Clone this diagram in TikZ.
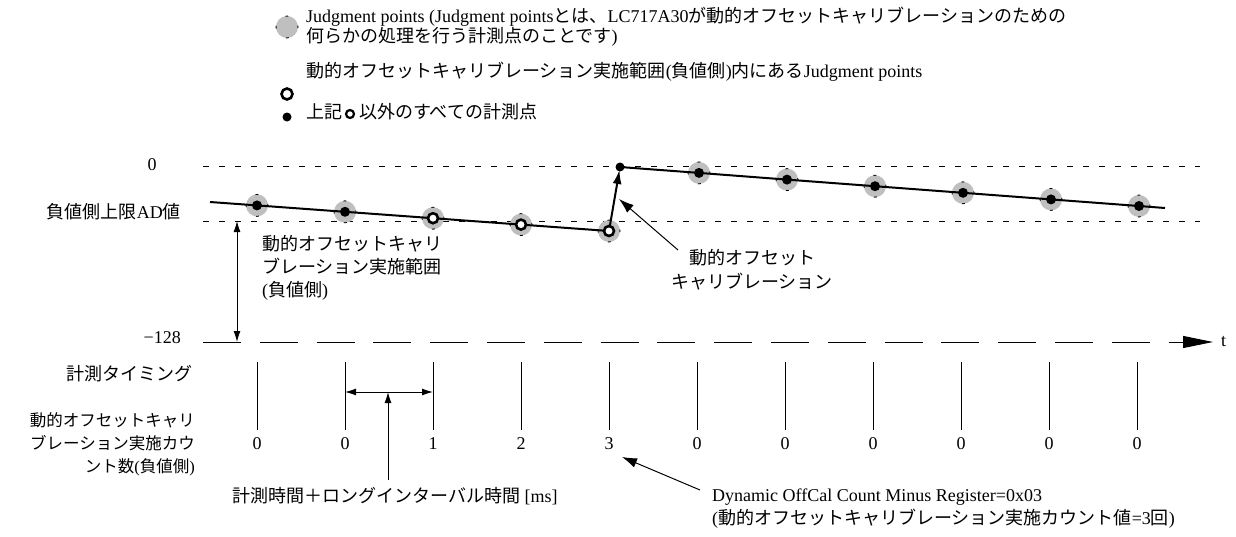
\documentclass[tikz,border=0pt]{standalone}
\usepackage{fontspec}
\setmainfont{Liberation Serif}
\newfontfamily\jpf{Noto Sans CJK JP}
\newcommand\J[1]{{\jpf #1}}
\newcommand\fsz{\fontsize{18}{21}\selectfont}
\newcommand\fsw{\fontsize{18}{23}\selectfont}
\usetikzlibrary{arrows.meta}
\tikzset{
  txt/.style={inner sep=0pt, font=\fsz},
  txtw/.style={inner sep=0pt, font=\fsw},
  jpt/.style={circle, fill=gray!50, draw=black, line width=0.8pt, minimum size=22pt, inner sep=0pt, dash pattern=on 3pt off 14.28pt, dash phase=1.5pt},
  dotpt/.style={circle, fill=black, minimum size=10pt, inner sep=0pt},
  openpt/.style={circle, fill=white, draw=black, line width=2.6pt, minimum size=10pt, inner sep=0pt},
  dataline/.style={line width=2pt},
  refline/.style={line width=0.9pt, dash pattern=on 5.5pt off 10.5pt},
  axisline/.style={line width=1pt, dash pattern=on 38pt off 18.8pt},
  tickline/.style={line width=1pt},
  arr/.style={line width=1pt, -{Latex[length=13pt,width=9pt]}},
  darr/.style={line width=1pt, {Latex[length=11pt,width=7pt]}-{Latex[length=11pt,width=7pt]}},
}
\begin{document}
\begin{tikzpicture}[x=1pt,y=-1pt]
\useasboundingbox (0,0) rectangle (1236,536);
% legend
\node[jpt] (ic1) at (287,27) {};
\node[openpt, minimum size=11pt] (ic2) at (287,94) {};
\node[dotpt, minimum size=9pt] (ic3) at (287,117) {};
\node[txt, anchor=west] (l1) at (306,17) {Judgment points (Judgment points\J{とは、}LC717A30\J{が動的オフセットキャリブレーションのための}};
\node[txt, anchor=west] (l1b) at (306,37) {\J{何らかの処理を行う計測点のことです})};
\node[txt, anchor=west] (l2) at (306,72) {\J{動的オフセットキャリブレーション実施範囲}(\J{負値側})\J{内にある}Judgment points};
\node[txt, anchor=west] (l3a) at (306,112) {\J{上記}};
\node[openpt, minimum size=8pt, line width=2.2pt] (ic4) at (350,114) {};
\node[txt, anchor=west] (l3b) at (359,112) {\J{以外のすべての計測点}};
% reference levels
\node[txt] (lz) at (152,165) {0};
\node[txt, anchor=east] (lad) at (181,212) {\J{負値側上限}AD\J{値}};
\node[txt, anchor=east] (lm) at (181,338) {−128};
\coordinate (z0) at (203,166); \coordinate (z1) at (1200,166);
\coordinate (r0) at (203,221); \coordinate (r1) at (1200,221);
\draw[refline] (z0) -- (z1);
\draw[refline] (r0) -- (r1);
% time axis
\coordinate (a0) at (203,342); \coordinate (a1) at (1184,342); \coordinate (a2) at (1213,342);
\draw[axisline] (a0) -- (a1);
\draw[line width=1pt, -{Triangle[length=30pt,width=12pt]}] (1170,342) -- (a2);
\node[txt, anchor=west] (lt) at (1221,342) {t};
% range arrow
\coordinate (v0) at (237,221); \coordinate (v1) at (237,342);
\draw[darr] (v0) -- (v1);
\node[txtw, anchor=west, align=left] (lrange) at (262,268) {\J{動的オフセットキャリ}\\\J{ブレーション実施範囲}\\(\J{負値側})};
% data points
\foreach \n/\x/\y in {q1/257/205.4, q2/345/211.8, q3/433/218.2, q4/521/224.6, q5/609/231.0,
                       u1/699/172.9, u2/787/179.6, u3/875/186.2, u4/963/192.8, u5/1051/199.4, u6/1139/206.0}
  \coordinate (\n) at (\x,\y);
\foreach \n in {q1,q2,q3,q4,q5,u1,u2,u3,u4,u5,u6}
  \node[jpt] (g\n) at (\n) {};
\coordinate (ls) at (210,202);
\coordinate (top) at (620,167);
\coordinate (ue) at (1165,208);
\draw[dataline] (ls) -- (q1) -- (q2) -- (q3) -- (q4) -- (q5);
\draw[dataline] (top) -- (u1) -- (u2) -- (u3) -- (u4) -- (u5) -- (u6) -- (ue);
\draw[dataline, -{Latex[length=14pt,width=9pt]}, shorten >=3pt] (q5) -- (top);
\foreach \n in {q3,q4,q5}
  \node[openpt] (m\n) at (\n) {};
\foreach \n in {q1,q2,u1,u2,u3,u4,u5,u6}
  \node[dotpt] (m\n) at (\n) {};
\node[dotpt, minimum size=9pt] (topdot) at (top) {};
% calibration label
\coordinate (ca0) at (678,250); \coordinate (ca1) at (619,199);
\draw[arr, -{Latex[length=15pt,width=10pt]}] (ca0) -- (ca1);
\node[txt, font=\fontsize{18}{24}\selectfont, align=center] (lcal) at (752,270) {\J{動的オフセット}\\\J{キャリブレーション}};
% timing
\node[txt, anchor=east] (ltim) at (193,374) {\J{計測タイミング}};
\node[txt, font=\fontsize{16.5}{23}\selectfont, anchor=east, align=right] (lcnt) at (195,444) {\J{動的オフセットキャリ}\\\J{ブレーション実施カウ}\\\J{ント数}(\J{負値側})};
\foreach \i/\x/\c in {1/257/0, 2/345/0, 3/433/1, 4/521/2, 5/609/3, 6/697/0, 7/785/0, 8/873/0, 9/961/0, 10/1049/0, 11/1137/0} {
  \coordinate (tt\i) at (\x,362);
  \coordinate (tb\i) at (\x,430);
  \draw[tickline] (tt\i) -- (tb\i);
  \node[txt] (cnt\i) at (\x,444) {\c};
}
\coordinate (h0) at (345,392); \coordinate (h1) at (433,392);
\draw[darr] (h0) -- (h1);
\coordinate (hu0) at (388,480); \coordinate (hu1) at (388,392);
\draw[arr, -{Latex[length=11pt,width=7pt]}] (hu0) -- (hu1);
\node[txt, anchor=west] (lint) at (232,496) {\J{計測時間＋ロングインターバル時間} [ms]};
% register
\coordinate (ra0) at (700,490); \coordinate (ra1) at (622,457);
\draw[arr, -{Latex[length=15pt,width=10pt]}] (ra0) -- (ra1);
\node[txt, anchor=west] (lreg1) at (712,497) {Dynamic OffCal Count Minus Register=0x03};
\node[txt, anchor=west] (lreg2) at (712,519) {(\J{動的オフセットキャリブレーション実施カウント値}=3\J{回})};
\end{tikzpicture}
\end{document}
